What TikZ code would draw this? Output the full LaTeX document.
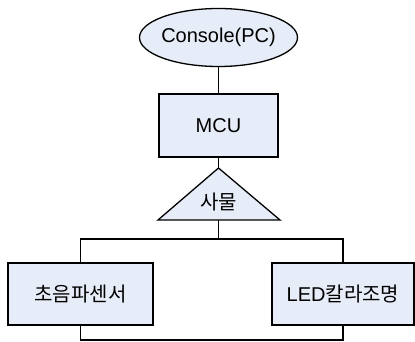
\documentclass[tikz,border=0pt]{standalone}
\usepackage{fontspec}
\setmainfont{Liberation Sans}
\newfontfamily\kr{Noto Sans CJK KR}
\usetikzlibrary{shapes.geometric}
\definecolor{boxfill}{RGB}{231,237,248}
\tikzset{
  every picture/.style={x=1pt,y=-1pt},
  txt/.style={font=\fontsize{20}{22}\selectfont},
  shapeline/.style={draw=black,line width=1.3pt,fill=boxfill},
  boxnode/.style={shapeline,rectangle,inner sep=0pt,txt},
  conn/.style={line width=1.3pt,line join=miter}
}
\begin{document}
\begin{tikzpicture}
\useasboundingbox (0,0) rectangle (415,342);
\node[shapeline,ellipse,minimum width=158pt,minimum height=58pt,inner sep=0pt,label={[txt,inner sep=0pt]center:Console(PC)}] (pc) at (218.5,37.5) {};
\node[boxnode,minimum width=119pt,minimum height=63pt] (mcu) at (218.5,125.5) {MCU};
\coordinate (apex) at (218.5,168);
\coordinate (tribase) at (218.5,220);
\draw[shapeline,line join=miter] (apex) -- (280,220) -- (158,220) -- cycle;
\node[txt,inner sep=0pt] (thing) at (218.5,202) {\kr 사물};
\node[boxnode,minimum width=145pt,minimum height=62pt] (L) at (80.5,294) {\kr 초음파센서};
\node[boxnode,minimum width=142pt,minimum height=62pt] (R) at (343,294) {LED{\kr 칼라조명}};
\coordinate (bus) at (218.5,239);
\draw[conn] (pc.south) -- (mcu.north);
\draw[conn] (mcu.south) -- (apex);
\draw[conn] (tribase) -- (bus);
\draw[conn] (L.north) |- (bus) -| (R.north);
\draw[conn] (L.south) -- (L.south |- 0,340) -| (R.south);
\end{tikzpicture}
\end{document}
